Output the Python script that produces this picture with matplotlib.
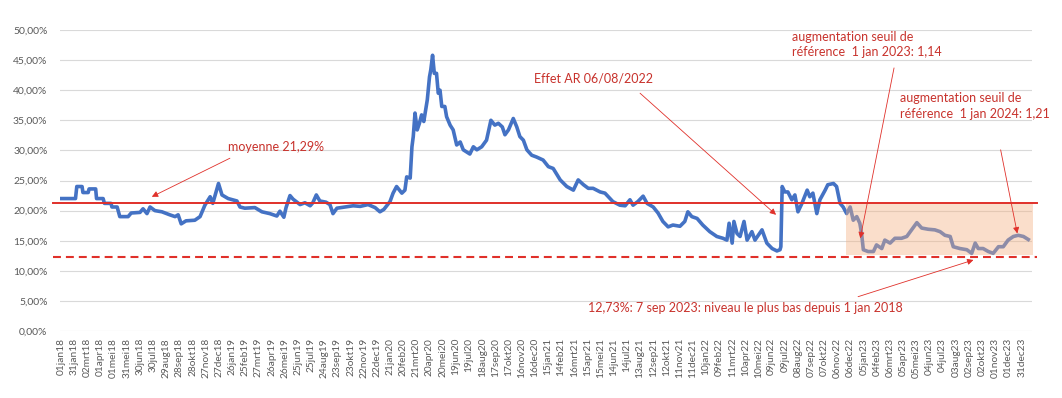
import matplotlib
matplotlib.use("Agg")
import matplotlib.pyplot as plt
import pandas as pd
import numpy as np

# valeurs (date, taux)
dates = [
    "2018-01-01", "2018-02-03", "2018-02-06", "2018-02-18", "2018-02-20", "2018-03-04",
    "2018-03-06", "2018-03-21", "2018-03-23", "2018-04-07", "2018-04-10", "2018-04-25",
    "2018-04-27", "2018-05-09", "2018-05-15", "2018-06-03", "2018-06-10", "2018-06-30",
    "2018-07-07", "2018-07-16", "2018-07-23", "2018-08-03", "2018-08-19", "2018-09-06",
    "2018-09-18", "2018-09-25", "2018-10-02", "2018-10-13", "2018-11-02", "2018-11-14",
    "2018-11-25", "2018-12-07", "2018-12-13", "2018-12-26", "2019-01-03", "2019-01-17",
    "2019-02-06", "2019-02-13", "2019-02-24", "2019-03-19", "2019-04-04", "2019-04-22",
    "2019-05-08", "2019-05-15", "2019-05-24", "2019-05-29", "2019-06-07", "2019-06-14",
    "2019-06-30", "2019-07-11", "2019-07-23", "2019-07-29", "2019-08-06", "2019-08-14",
    "2019-08-28", "2019-09-06", "2019-09-13", "2019-09-22", "2019-10-10", "2019-10-29",
    "2019-11-14", "2019-12-02", "2019-12-18", "2019-12-29", "2020-01-07", "2020-01-21",
    "2020-01-28", "2020-02-05", "2020-02-17", "2020-02-24", "2020-02-28", "2020-03-07",
    "2020-03-11", "2020-03-14", "2020-03-18", "2020-03-23", "2020-03-28", "2020-04-02",
    "2020-04-07", "2020-04-15", "2020-04-20", "2020-04-23", "2020-04-27", "2020-05-01",
    "2020-05-06", "2020-05-10", "2020-05-14", "2020-05-18", "2020-05-25", "2020-05-29",
    "2020-06-06", "2020-06-13", "2020-06-21", "2020-06-29", "2020-07-06", "2020-07-21",
    "2020-07-29", "2020-08-06", "2020-08-17", "2020-08-28", "2020-09-07", "2020-09-16",
    "2020-09-24", "2020-10-03", "2020-10-09", "2020-10-17", "2020-10-28", "2020-11-05",
    "2020-11-12", "2020-11-20", "2020-11-28", "2020-12-09", "2020-12-20", "2021-01-04",
    "2021-01-16", "2021-01-27", "2021-02-12", "2021-02-27", "2021-03-14", "2021-03-25",
    "2021-04-06", "2021-04-17", "2021-04-28", "2021-05-14", "2021-05-25", "2021-06-12",
    "2021-06-28", "2021-07-10", "2021-07-21", "2021-07-28", "2021-08-08", "2021-08-20",
    "2021-08-29", "2021-09-12", "2021-09-23", "2021-10-04", "2021-10-16", "2021-10-27",
    "2021-11-12", "2021-11-23", "2021-11-30", "2021-12-09", "2021-12-21", "2022-01-03",
    "2022-01-19", "2022-02-04", "2022-02-18", "2022-02-27", "2022-03-04", "2022-03-11",
    "2022-03-15", "2022-03-22", "2022-03-29", "2022-04-07", "2022-04-14", "2022-04-25",
    "2022-05-02", "2022-05-18", "2022-05-29", "2022-06-10", "2022-06-21", "2022-06-28",
    "2022-06-30", "2022-07-03", "2022-07-09", "2022-07-16", "2022-07-25", "2022-08-01",
    "2022-08-08", "2022-08-17", "2022-08-29", "2022-09-04", "2022-09-11", "2022-09-20",
    "2022-09-27", "2022-10-09", "2022-10-15", "2022-10-28", "2022-11-04", "2022-11-12",
    "2022-11-19", "2022-11-27", "2022-12-05", "2022-12-12", "2022-12-20", "2022-12-27",
    "2022-12-31", "2023-01-04", "2023-01-15", "2023-01-27", "2023-02-03", "2023-02-15",
    "2023-02-22", "2023-03-06", "2023-03-17", "2023-04-01", "2023-04-13", "2023-04-24",
    "2023-05-06", "2023-05-17", "2023-06-01", "2023-06-16", "2023-06-28", "2023-07-09",
    "2023-07-21", "2023-07-28", "2023-08-12", "2023-08-28", "2023-09-08", "2023-09-16",
    "2023-09-23", "2023-10-04", "2023-10-16", "2023-10-27", "2023-11-08", "2023-11-19",
    "2023-11-30", "2023-12-12", "2023-12-23", "2024-01-04", "2024-01-15",
]
taux = [
    22.0, 22.0, 24.0, 24.0, 23.0, 23.0,
    23.6, 23.6, 22.0, 22.0, 21.2, 21.2,
    20.6, 20.6, 19.0, 19.0, 19.6, 19.7,
    20.3, 19.5, 20.6, 20.0, 19.8, 19.3,
    19.0, 19.3, 17.8, 18.3, 18.4, 19.0,
    20.9, 22.3, 21.2, 24.5, 22.6, 22.0,
    21.6, 20.6, 20.4, 20.5, 19.8, 19.5,
    19.1, 19.9, 18.9, 20.5, 22.5, 21.9,
    21.0, 21.3, 20.8, 21.3, 22.6, 21.6,
    21.4, 21.0, 19.5, 20.4, 20.6, 20.8,
    20.7, 21.0, 20.5, 19.8, 20.2, 21.5,
    22.9, 24.0, 22.9, 23.4, 25.6, 25.4,
    30.6, 32.3, 36.2, 33.4, 34.5, 35.9,
    34.8, 38.4, 42.2, 43.4, 45.8, 42.8,
    42.8, 39.5, 40.0, 37.3, 37.3, 35.6,
    34.2, 33.4, 30.9, 31.4, 30.1, 29.4,
    30.6, 30.1, 30.6, 31.7, 35.0, 34.2,
    34.5, 33.9, 32.6, 33.4, 35.3, 33.9,
    32.3, 31.7, 30.1, 29.2, 28.9, 28.4,
    27.3, 27.0, 25.1, 24.0, 23.4, 25.1,
    24.3, 23.7, 23.7, 23.1, 22.9, 21.5,
    20.9, 20.8, 21.8, 20.9, 21.5, 22.4,
    21.2, 20.6, 19.6, 18.2, 17.3, 17.6,
    17.4, 18.2, 19.8, 19.0, 18.7, 17.6,
    16.5, 15.7, 15.4, 15.1, 17.9, 14.6,
    18.2, 16.2, 15.7, 18.2, 15.1, 16.5,
    15.1, 16.8, 14.6, 13.7, 13.3, 13.5,
    14.0, 24.0, 23.1, 23.1, 21.8, 22.6,
    19.8, 21.2, 23.4, 22.3, 22.9, 19.5,
    21.8, 23.4, 24.3, 24.5, 24.0, 21.2,
    20.6, 19.5, 20.6, 18.4, 19.0, 17.9,
    16.2, 13.5, 13.2, 13.2, 14.3, 13.7,
    15.1, 14.6, 15.4, 15.4, 15.7, 16.8,
    18.0, 17.1, 16.9, 16.8, 16.5, 15.9,
    15.7, 14.0, 13.7, 13.5, 12.9, 14.6,
    13.7, 13.7, 13.2, 12.9, 14.0, 14.0,
    15.1, 15.7, 15.9, 15.7, 15.2,
]
moyenne = 21.29
niveau_bas = 12.3
zone_debut = "2022-11-25"
mois_nl = ["jan", "feb", "mrt", "apr", "mei", "jun", "jul", "aug", "sep", "okt", "nov", "dec"]

ROUGE = "#E0302A"
TEXTE = "#C8322C"
GRIS = "#595959"

plt.rcParams["font.family"] = ["Lato", "DejaVu Sans"]

x = pd.to_datetime(dates)
d0 = pd.Timestamp("2018-01-01")

fig = plt.figure(figsize=(10.62, 3.98), dpi=100)
ax = fig.add_axes([60 / 1062, 67 / 398, 972 / 1062, 301 / 398])

ax.plot(x, taux, color="#4472C4", lw=2.6, zorder=2, solid_joinstyle="round")

# moyenne et niveau le plus bas, un peu au-dela de la zone de tracé
tr = ax.get_yaxis_transform()
ax.plot([-0.0075, 1.005], [moyenne, moyenne], color=ROUGE, lw=1.4,
        transform=tr, clip_on=False, zorder=4)
ax.plot([-0.0075, 1.005], [niveau_bas, niveau_bas], color=ROUGE, lw=1.5,
        ls=(0, (3.8, 2.4)), transform=tr, clip_on=False, zorder=4)

# zone orange 2023
ax.fill_between([pd.Timestamp(zone_debut), d0 + pd.Timedelta(days=2216)],
                12.6, moyenne, color="#F4B183", alpha=0.42, lw=0, zorder=3)

ax.set_ylim(0, 50)
ax.set_xlim(d0 - pd.Timedelta(days=2.3), d0 + pd.Timedelta(days=2213.5))
ax.set_yticks(np.arange(0, 51, 5))
ax.set_yticklabels([f"{v:.2f}".replace(".", ",") + "%" for v in np.arange(0, 51, 5)])

ticks = pd.date_range("2018-01-01", "2023-12-31", freq="30D")
ax.set_xticks(ticks)
ax.set_xticklabels([f"{t.day:02d}{mois_nl[t.month - 1]}{t.year % 100:02d}" for t in ticks],
                   rotation=90)

ax.tick_params(axis="y", length=0, pad=9, labelsize=7.5, labelcolor=GRIS)
ax.tick_params(axis="x", length=0, pad=5, labelsize=7.3, labelcolor=GRIS)
ax.grid(axis="y", color="#D9D9D9", lw=0.8)
ax.set_axisbelow(True)
for s in ax.spines.values():
    s.set_visible(False)


def jour(n):
    return d0 + pd.Timedelta(days=n)


fleche = dict(arrowstyle="-|>", color=ROUGE, lw=0.6, mutation_scale=9,
              shrinkA=0, shrinkB=0)

ax.annotate("", xy=(jour(207), 22.3), xytext=(jour(385), 28.7), arrowprops=fleche)
ax.text(jour(381), 30.6, "moyenne 21,29%", color=TEXTE, fontsize=9, va="center")

ax.annotate("", xy=(jour(1630), 19.3), xytext=(jour(1320), 39.5), arrowprops=fleche)
ax.text(jour(1078), 41.9, "Effet AR 06/08/2022", color=TEXTE, fontsize=9, va="center")

ax.annotate("", xy=(jour(1822), 15.4), xytext=(jour(1899), 43.7), arrowprops=fleche)
ax.text(jour(1666), 47.6, "augmentation seuil de\nréférence  1 jan 2023: 1,14",
        color=TEXTE, fontsize=9, va="center", linespacing=1.35)

ax.annotate("", xy=(jour(2180), 16.2), xytext=(jour(2142), 30.1), arrowprops=fleche)
ax.text(jour(1913), 37.4, "augmentation seuil de\nréférence  1 jan 2024: 1,21",
        color=TEXTE, fontsize=9, va="center", linespacing=1.35)

ax.annotate("", xy=(jour(2080), 11.8), xytext=(jour(1817), 5.7), arrowprops=fleche)
ax.text(jour(1201), 3.9, "12,73%: 7 sep 2023: niveau le plus bas depuis 1 jan 2018",
        color=TEXTE, fontsize=9, va="center")

fig.savefig("out.png", dpi=100)
